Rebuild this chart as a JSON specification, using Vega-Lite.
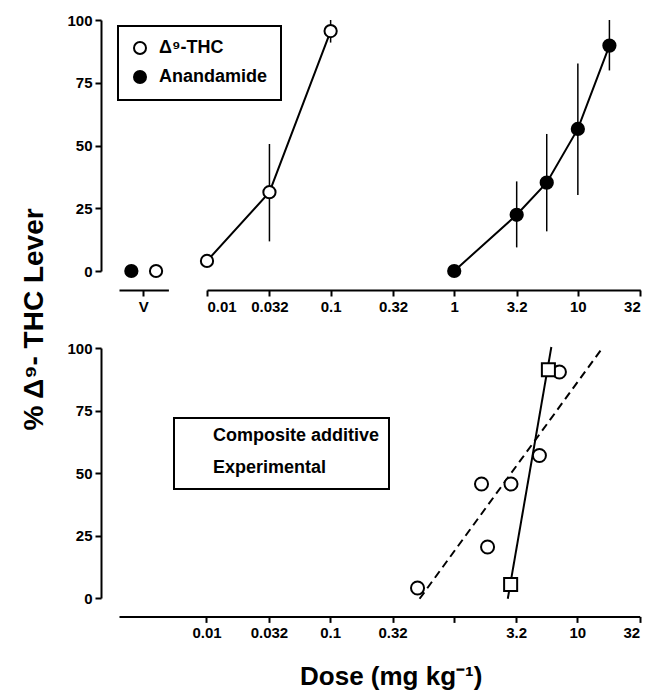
{
  "$schema": "https://vega.github.io/schema/vega-lite/v6.json",
  "background": "white",
  "padding": {"left": 20, "top": 13, "right": 5, "bottom": 5},
  "config": {
    "view": {"stroke": null},
    "font": "Liberation Sans",
    "axis": {
      "domainColor": "black", "domainWidth": 2, "tickColor": "black", "tickWidth": 2, "tickSize": 6,
      "labelFont": "Liberation Sans", "labelFontWeight": "bold", "labelFontSize": 15, "labelColor": "black",
      "labelPadding": 3, "grid": false,
      "titleFont": "Liberation Sans", "titleFontWeight": "bold", "titleColor": "black"
    },
    "legend": {
      "labelFont": "Liberation Sans", "labelFontWeight": "bold", "labelFontSize": 18, "labelColor": "black",
      "labelLimit": 300, "strokeColor": "black", "strokeWidth": 2, "padding": 13, "rowPadding": 10
    }
  },
  "datasets": {
    "vehicle": [
      {"dose": "V", "drug": "Anandamide", "pct": 0},
      {"dose": "V", "drug": "Δ⁹-THC", "pct": 0}
    ],
    "doses": [
      {"drug": "Δ⁹-THC", "dose": 0.01, "pct": 4},
      {"drug": "Δ⁹-THC", "dose": 0.032, "pct": 31.4, "lo": 11.8, "hi": 50.6},
      {"drug": "Δ⁹-THC", "dose": 0.1, "pct": 95.6, "lo": 91, "hi": 100},
      {"drug": "Anandamide", "dose": 1, "pct": 0},
      {"drug": "Anandamide", "dose": 3.2, "pct": 22.4, "lo": 9.4, "hi": 35.7},
      {"drug": "Anandamide", "dose": 5.6, "pct": 35.2, "lo": 15.8, "hi": 54.6},
      {"drug": "Anandamide", "dose": 10, "pct": 56.6, "lo": 30.3, "hi": 82.7},
      {"drug": "Anandamide", "dose": 18, "pct": 89.8, "lo": 79.9, "hi": 100}
    ],
    "combo": [
      {"series": "Composite additive", "dose": 0.51, "pct": 4},
      {"series": "Composite additive", "dose": 1.68, "pct": 45.6},
      {"series": "Composite additive", "dose": 1.88, "pct": 20.4},
      {"series": "Composite additive", "dose": 2.91, "pct": 45.6},
      {"series": "Composite additive", "dose": 4.94, "pct": 57},
      {"series": "Composite additive", "dose": 7.17, "pct": 90.4},
      {"series": "Experimental", "dose": 2.89, "pct": 5.4},
      {"series": "Experimental", "dose": 5.84, "pct": 91.3}
    ],
    "fits": [
      {"series": "Composite additive", "dose": 0.53, "pct": -0.3},
      {"series": "Composite additive", "dose": 16.2, "pct": 100.4},
      {"series": "Experimental", "dose": 2.74, "pct": -0.3},
      {"series": "Experimental", "dose": 6.17, "pct": 100.4}
    ]
  },
  "bounds": "flush",
  "spacing": 328,
  "resolve": {"scale": {"fill": "independent", "strokeDash": "independent"}},
  "vconcat": [
    {
      "bounds": "flush",
      "spacing": 38,
      "resolve": {"scale": {"fill": "independent"}},
      "hconcat": [
        {
          "width": 49.4,
          "height": 251,
          "data": {"name": "vehicle"},
          "mark": {"type": "point", "shape": "circle", "size": 150, "stroke": "black", "strokeWidth": 2, "opacity": 1},
          "encoding": {
            "x": {"field": "dose", "type": "nominal", "scale": {"type": "band", "domain": ["V"], "paddingInner": 0, "paddingOuter": 0},
                  "axis": {"title": null, "labelAngle": 0, "offset": 19}},
            "xOffset": {"field": "drug", "type": "nominal", "scale": {"type": "point", "domain": ["Anandamide", "Δ⁹-THC"], "padding": 0.5}},
            "y": {"field": "pct", "type": "quantitative", "scale": {"domain": [0, 100], "nice": false},
                  "axis": {"values": [0, 25, 50, 75, 100], "offset": 18, "title": "% Δ⁹- THC Lever",
                           "titleFontSize": 28, "titleAngle": 270, "titleX": -67, "titleY": 299,
                           "titleAlign": "center", "titleBaseline": "middle"}},
            "fill": {"field": "drug", "type": "nominal",
                     "scale": {"domain": ["Δ⁹-THC", "Anandamide"], "range": ["white", "black"]},
                     "legend": {"orient": "none", "legendX": -1, "legendY": 6, "title": null,
                                "symbolType": "circle", "symbolSize": 144, "symbolStrokeColor": "black",
                                "symbolStrokeWidth": 2, "labelOffset": 10, "rowPadding": 9}}
          }
        },
        {
          "width": 433.3,
          "height": 251,
          "data": {"name": "doses"},
          "encoding": {
            "x": {"field": "dose", "type": "quantitative",
                  "scale": {"type": "log", "domain": [0.01, 32], "nice": false},
                  "axis": {"values": [0.01, 0.032, 0.1, 0.32, 1, 3.2, 10, 32], "format": "~g", "offset": 19, "title": null}},
            "y": {"field": "pct", "type": "quantitative", "scale": {"domain": [0, 100], "nice": false}, "axis": null}
          },
          "layer": [
            {
              "transform": [{"filter": "isValid(datum.lo)"}],
              "mark": {"type": "rule", "color": "black", "strokeWidth": 1.5},
              "encoding": {"y": {"field": "lo", "type": "quantitative"}, "y2": {"field": "hi"}}
            },
            {
              "mark": {"type": "line", "color": "black", "strokeWidth": 2},
              "encoding": {"detail": {"field": "drug", "type": "nominal"}}
            },
            {
              "mark": {"type": "point", "shape": "circle", "size": 150, "stroke": "black", "strokeWidth": 2, "opacity": 1},
              "encoding": {
                "fill": {"field": "drug", "type": "nominal",
                         "scale": {"domain": ["Δ⁹-THC", "Anandamide"], "range": ["white", "black"]}, "legend": null}
              }
            }
          ]
        }
      ]
    },
    {
      "width": 520.7,
      "height": 250,
      "encoding": {
        "x": {"field": "dose", "type": "quantitative",
              "scale": {"type": "log", "domain": [0.00196, 32], "nice": false},
              "axis": {"values": [0.01, 0.032, 0.1, 0.32, 1, 3.2, 10, 32],
                       "labelExpr": "datum.value == 1 ? '' : format(datum.value, '~g')",
                       "offset": 18.4, "title": "Dose (mg kg⁻¹)", "titleFontSize": 26,
                       "titleX": 271.7, "titleY": 60, "titleAlign": "center", "titleBaseline": "middle"}},
        "y": {"field": "pct", "type": "quantitative", "scale": {"domain": [0, 100], "nice": false},
              "axis": {"values": [0, 25, 50, 75, 100], "offset": 18, "title": null}}
      },
      "layer": [
        {
          "data": {"name": "fits"},
          "mark": {"type": "line", "color": "black", "strokeWidth": 2},
          "encoding": {
            "strokeDash": {"field": "series", "type": "nominal",
                           "scale": {"domain": ["Composite additive", "Experimental"], "range": [[8, 5], [1, 0]]},
                           "legend": null}
          }
        },
        {
          "data": {"name": "combo"},
          "mark": {"type": "point", "size": 170, "fill": "white", "stroke": "black", "strokeWidth": 2, "opacity": 1},
          "encoding": {
            "shape": {"field": "series", "type": "nominal",
                      "scale": {"domain": ["Composite additive", "Experimental"], "range": ["circle", "square"]},
                      "legend": {"orient": "none", "legendX": 55, "legendY": 398, "title": null,
                                 "symbolSize": 250, "symbolOpacity": 1, "symbolStrokeColor": "black", "symbolFillColor": "white",
                                 "symbolStrokeWidth": 2, "labelOffset": 12, "rowPadding": 8, "padding": 9}}
          }
        }
      ]
    }
  ]
}
